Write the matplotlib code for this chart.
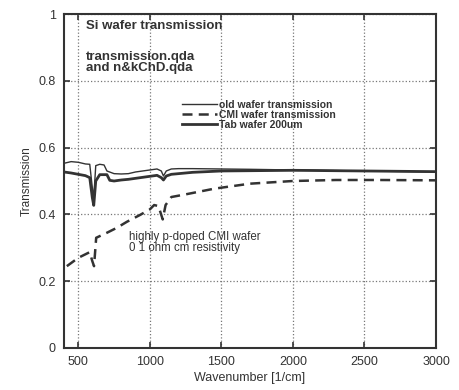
import numpy as np
import matplotlib
matplotlib.use('Agg')
import matplotlib.pyplot as plt

plt.rcParams['font.family'] = ['Liberation Sans', 'DejaVu Sans']

# old wafer transmission (thin solid)
old_w = [400, 450, 500, 550, 580, 598, 608, 622, 650, 680, 700, 750, 800, 850, 900, 950,
         1000, 1050, 1080, 1095, 1115, 1150, 1200, 1300, 1500, 1700, 2000, 2500, 3000]
old_t = [0.553, 0.558, 0.556, 0.551, 0.550, 0.48, 0.45, 0.546, 0.550, 0.548, 0.530, 0.522,
         0.521, 0.522, 0.527, 0.530, 0.533, 0.536, 0.530, 0.515, 0.530, 0.536, 0.537, 0.537,
         0.536, 0.535, 0.533, 0.530, 0.527]

# CMI wafer transmission (dashed)
cmi_w = [420, 500, 580, 598, 610, 625, 700, 770, 840, 930, 1000, 1030, 1060, 1090, 1110,
         1150, 1250, 1450, 1700, 2000, 2300, 2600, 3000]
cmi_t = [0.245, 0.270, 0.287, 0.260, 0.245, 0.330, 0.345, 0.360, 0.378, 0.398, 0.415, 0.428,
         0.425, 0.385, 0.428, 0.452, 0.460, 0.477, 0.492, 0.500, 0.503, 0.503, 0.502]

# Tab wafer 200um (thick solid)
tab_w = [400, 450, 500, 550, 580, 598, 608, 622, 650, 700, 720, 750, 800, 850, 900, 950,
         1000, 1050, 1080, 1095, 1115, 1150, 1200, 1300, 1500, 2000, 2500, 3000]
tab_t = [0.527, 0.524, 0.520, 0.516, 0.510, 0.45, 0.427, 0.500, 0.519, 0.519, 0.502, 0.500,
         0.503, 0.505, 0.508, 0.511, 0.514, 0.517, 0.510, 0.503, 0.515, 0.520, 0.522, 0.526,
         0.530, 0.532, 0.530, 0.528]

fig = plt.figure(figsize=(4.59, 3.9), dpi=100)
ax = fig.add_axes([0.1394, 0.1077, 0.8106, 0.8564])

ax.plot(old_w, old_t, color='#333333', lw=1.0, label='old wafer transmission')
ax.plot(cmi_w, cmi_t, color='#333333', lw=1.8, linestyle=(0, (4, 2.5)),
        label='CMI wafer transmission')
ax.plot(tab_w, tab_t, color='#333333', lw=2.0, label='Tab wafer 200um')

ax.set_xlim(400, 3000)
ax.set_ylim(0, 1)
ax.set_xticks([500, 1000, 1500, 2000, 2500, 3000])
ax.set_yticks([0, 0.2, 0.4, 0.6, 0.8, 1])
ax.set_yticklabels(['0', '0.2', '0.4', '0.6', '0.8', '1'])
ax.grid(True, linestyle=':', color='#777777', lw=0.9)
ax.tick_params(direction='in', top=True, right=True, labelsize=9, length=4, width=1.2,
               colors='#333333', pad=6)
for s in ax.spines.values():
    s.set_linewidth(1.5)
    s.set_color('#333333')

ax.set_xlabel('Wavenumber [1/cm]', fontsize=9, color='#333333', labelpad=3)
ax.set_ylabel('Transmission', fontsize=8.5, color='#333333', labelpad=4)

ax.text(0.06, 0.965, 'Si wafer transmission', transform=ax.transAxes, fontsize=9.5,
        fontweight='bold', color='#333333', va='center')
ax.text(0.06, 0.855, 'transmission.qda\nand n&kChD.qda', transform=ax.transAxes,
        fontsize=9.5, fontweight='bold', color='#333333', va='center', linespacing=0.85)
ax.text(0.175, 0.315, 'highly p-doped CMI wafer\n0 1 ohm cm resistivity',
        transform=ax.transAxes, fontsize=8.3, color='#333333', va='center', linespacing=0.9)

ax.legend(loc='center left', bbox_to_anchor=(0.317, 0.698), frameon=False,
          prop={'size': 7.5, 'weight': 'bold'},
          borderpad=0, borderaxespad=0, labelspacing=0, handlelength=3.4,
          handletextpad=0.2, labelcolor='#333333')

fig.savefig('out.png', dpi=100)
